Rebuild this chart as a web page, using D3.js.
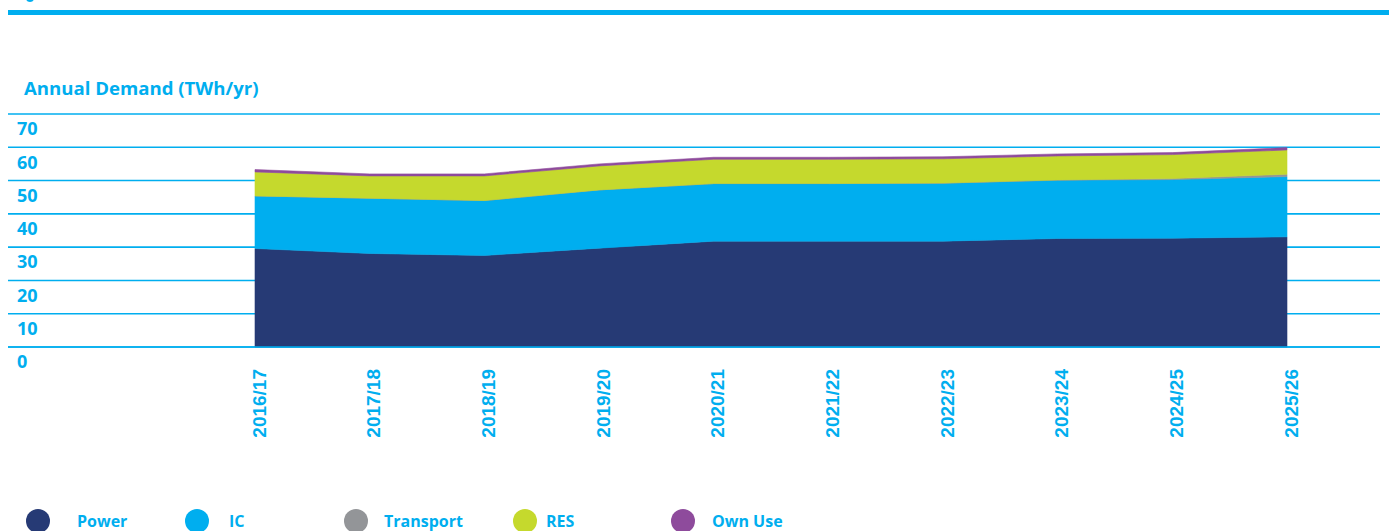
<!DOCTYPE html>
<html><head><meta charset="utf-8">
<script src="https://cdn.jsdelivr.net/npm/d3@7"></script>
<style>html,body{margin:0;padding:0;background:#fff;overflow:hidden}</style>
</head><body>
<svg id="c" width="1389" height="531"></svg>
<script>
const categories = ["2016/17","2017/18","2018/19","2019/20","2020/21","2021/22","2022/23","2023/24","2024/25","2025/26"];
const power     = [29.6, 28.1, 27.5, 29.7, 31.8, 31.8, 31.8, 32.6, 32.7, 33.1];
const ic        = [15.8, 16.6, 16.5, 17.5, 17.3, 17.3, 17.4, 17.5, 17.6, 18.1];
const transport = [0, 0, 0, 0, 0, 0, 0.05, 0.1, 0.3, 0.7];
const res       = [7.2, 6.7, 7.4, 7.2, 7.3, 7.3, 7.3, 7.2, 7.2, 7.3];
const ownUse    = [0.7, 0.6, 0.6, 0.6, 0.6, 0.6, 0.6, 0.6, 0.6, 0.7];
const yTicks = [0, 10, 20, 30, 40, 50, 60, 70];
const seriesNames = ["Power", "IC", "Transport", "RES", "Own Use"];
const colors = ["#263a75", "#00aeef", "#939598", "#c5d92d", "#8e4b9c"];
const title = "Annual Demand (TWh/yr)";

const blue = "#00aeef";
const svg = d3.select("#c");

// header bar
svg.append("rect").attr("x", 8).attr("y", 10).attr("width", 1381).attr("height", 5).attr("fill", blue);
svg.append("ellipse").attr("cx", 30).attr("cy", -2).attr("rx", 4).attr("ry", 4).attr("fill", blue);

svg.append("text").attr("x", 24).attr("y", 95).text(title)
  .attr("font-family", "Open Sans").attr("font-weight", 700).attr("font-size", 18.6).attr("fill", blue);

const x = d3.scalePoint().domain(categories).range([255, 1287]);
const y = d3.scaleLinear().domain([0, 70]).range([347, 114]);

// grid
const grid = svg.append("g");
grid.selectAll("line").data(yTicks).join("line")
  .attr("x1", 8).attr("x2", 1380)
  .attr("y1", d => y(d)).attr("y2", d => y(d))
  .attr("stroke", blue).attr("stroke-width", 1.6);
svg.append("g").selectAll("text").data(yTicks).join("text")
  .attr("x", 17).attr("y", d => y(d) + 15).attr("dy", "0.35em")
  .text(d => d)
  .attr("font-family", "Open Sans").attr("font-weight", 700).attr("font-size", 18).attr("fill", blue);

// data table
const table = categories.map((c, i) => ({
  cat: c, "Power": power[i], "IC": ic[i], "Transport": transport[i], "RES": res[i], "Own Use": ownUse[i]
}));
const stack = d3.stack().keys(seriesNames)(table);
const area = d3.area().x(d => x(d.data.cat)).y0(d => y(d[0])).y1(d => y(d[1]));
svg.append("g").selectAll("path").data(stack).join("path")
  .attr("d", area).attr("fill", (d, i) => colors[i])
  .attr("stroke", (d, i) => colors[i]).attr("stroke-width", 0.6);

// zero line over area
svg.append("line").attr("x1", 8).attr("x2", 1380).attr("y1", y(0)).attr("y2", y(0))
  .attr("stroke", blue).attr("stroke-width", 1.6);

// x labels
svg.append("g").selectAll("text").data(categories).join("text")
  .attr("transform", d => `translate(${x(d) + 4},369) rotate(-90)`)
  .attr("text-anchor", "end").attr("dy", "0.35em")
  .text(d => d)
  .attr("font-family", "Liberation Sans").attr("font-weight", 700).attr("font-size", 19).attr("fill", blue);

// legend
const legX = [38, 197, 356, 525, 683];
const legTX = [77, 229, 384, 546, 712];
const leg = svg.append("g").selectAll("g").data(seriesNames).join("g");
leg.append("circle").attr("cx", (d, i) => legX[i]).attr("cy", 521).attr("r", 12).attr("fill", (d, i) => colors[i]);
leg.append("text").attr("x", (d, i) => legTX[i]).attr("y", 527).text(d => d)
  .attr("font-family", "Open Sans").attr("font-weight", 700).attr("font-size", 16).attr("fill", blue);
</script>
</body></html>
